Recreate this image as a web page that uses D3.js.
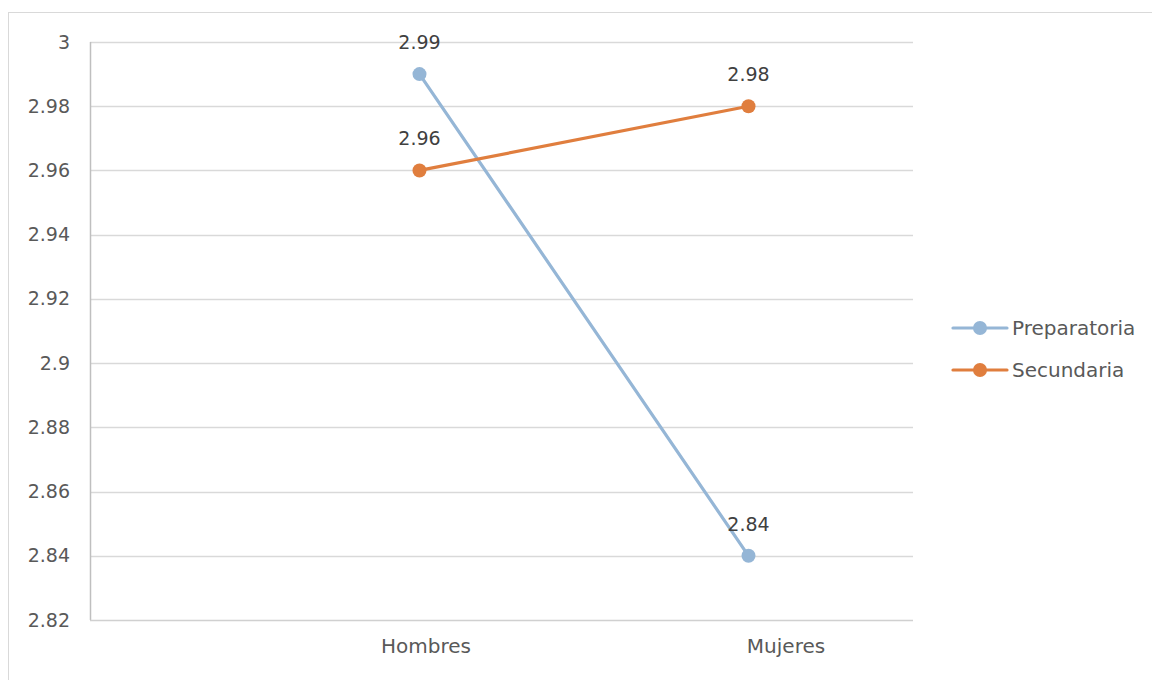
<!DOCTYPE html>
<html>
<head>
<meta charset="utf-8">
<script src="https://cdn.jsdelivr.net/npm/d3@7"></script>
<style>
  html, body { margin: 0; padding: 0; background: #fff; }
  svg { display: block; font-family: "DejaVu Sans", "Open Sans", sans-serif; }
</style>
</head>
<body>
<svg id="chart" width="1152" height="680"></svg>
<script>
// Categories, series and axis ticks
const categories = ["Hombres", "Mujeres"];
const seriesNames = ["Preparatoria", "Secundaria"];
const preparatoria = [2.99, 2.84];
const secundaria = [2.96, 2.98];
const yTicks = [2.82, 2.84, 2.86, 2.88, 2.9, 2.92, 2.94, 2.96, 2.98, 3];
const colors = ["#95B6D6", "#E07E3E"];

const series = [
  { name: seriesNames[0], values: preparatoria, color: colors[0] },
  { name: seriesNames[1], values: secundaria, color: colors[1] }
];

const svg = d3.select("#chart");
const W = 1152, H = 680;
const plot = { left: 90, right: 913, top: 42, bottom: 620 };

// Outer chart frame
svg.append("rect")
  .attr("x", 8.5).attr("y", 12.5)
  .attr("width", W + 10).attr("height", H + 10)
  .attr("fill", "none").attr("stroke", "#d9d9d9").attr("stroke-width", 1);

const y = d3.scaleLinear().domain([2.82, 3]).range([plot.bottom, plot.top]);
// point positions
const x = d3.scaleBand().domain(categories).range([255, plot.right]);
const xc = c => x(c) + x.bandwidth() / 2;
// category label positions
const xLab = d3.scaleBand().domain(categories).range([246, 966]);

// Horizontal gridlines
svg.append("g").selectAll("line")
  .data(yTicks.filter(t => t !== 2.82))
  .join("line")
  .attr("x1", plot.left).attr("x2", plot.right)
  .attr("y1", d => Math.round(y(d)) + 0.5).attr("y2", d => Math.round(y(d)) + 0.5)
  .attr("stroke", "#d9d9d9").attr("stroke-width", 1.5);

// Y axis
const yAxis = d3.axisLeft(y).tickValues(yTicks).tickSize(0).tickPadding(20)
  .tickFormat(d => String(+d.toFixed(2)));
const gy = svg.append("g").attr("transform", `translate(${plot.left},0)`).call(yAxis);
gy.select(".domain").remove();
gy.selectAll("text").attr("fill", "#595959").style("font-size", "19px").style("font-family", "DejaVu Sans");
svg.append("line")
  .attr("x1", plot.left + 0.5).attr("x2", plot.left + 0.5)
  .attr("y1", plot.top).attr("y2", plot.bottom)
  .attr("stroke", "#bfbfbf").attr("stroke-width", 1.5);

// X axis
svg.append("line")
  .attr("x1", plot.left).attr("x2", plot.right)
  .attr("y1", plot.bottom + 0.5).attr("y2", plot.bottom + 0.5)
  .attr("stroke", "#d0d0d0").attr("stroke-width", 1.5);
const xAxis = d3.axisBottom(xLab).tickSize(0).tickPadding(19);
const gx = svg.append("g").attr("transform", `translate(0,${plot.bottom})`).call(xAxis);
gx.select(".domain").remove();
gx.selectAll("text").attr("fill", "#595959").style("font-size", "20px").style("font-family", "DejaVu Sans");

// Lines, markers and value labels
const line = d3.line().x((d, i) => xc(categories[i])).y(d => y(d));
series.forEach(s => {
  const g = svg.append("g");
  g.append("path").attr("d", line(s.values))
    .attr("fill", "none").attr("stroke", s.color).attr("stroke-width", 3.2)
    .attr("stroke-linecap", "round");
  g.selectAll("circle").data(s.values).join("circle")
    .attr("cx", (d, i) => xc(categories[i])).attr("cy", d => y(d))
    .attr("r", 7).attr("fill", s.color);
});
series.forEach(s => {
  svg.append("g").selectAll("text").data(s.values).join("text")
    .attr("x", (d, i) => xc(categories[i])).attr("y", d => y(d) - 25)
    .attr("text-anchor", "middle").attr("fill", "#404040")
    .style("font-size", "19px")
    .text(d => d.toFixed(2));
});

// Legend
const legend = svg.append("g").attr("transform", "translate(953,328)");
series.forEach((s, i) => {
  const g = legend.append("g").attr("transform", `translate(0,${i * 42})`);
  g.append("line").attr("x1", 0).attr("x2", 54).attr("y1", 0).attr("y2", 0)
    .attr("stroke", s.color).attr("stroke-width", 3.2).attr("stroke-linecap", "round");
  g.append("circle").attr("cx", 27).attr("cy", 0).attr("r", 7).attr("fill", s.color);
  g.append("text").attr("x", 59).attr("y", 7).attr("fill", "#595959")
    .style("font-size", "20px").text(s.name);
});
</script>
</body>
</html>
